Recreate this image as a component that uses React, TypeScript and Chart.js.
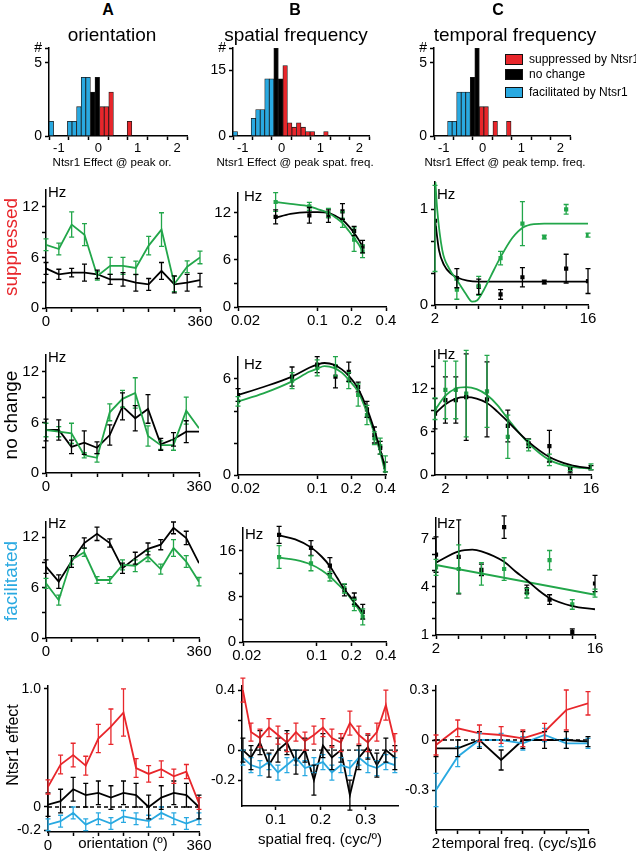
import React, { useEffect, useRef } from 'react';
import { Chart, registerables } from 'chart.js';

Chart.register(...registerables);

const FONT = '"Liberation Sans", Arial, Helvetica, sans-serif';
const GREEN = '#22a64a';
const RED = '#e8262b';
const BLUE = '#29a9e1';
const BLACK = '#000000';

/* ---------------- histogram data (bins 0.1 wide, -1 ... 2) ---------------- */
const histBins = ['-0.95','-0.85','-0.75','-0.65','-0.55','-0.45','-0.35','-0.25','-0.15','-0.05','0.05','0.15','0.25','0.35','0.45','0.55','0.65','0.75','0.85','0.95','1.05','1.15','1.25','1.35','1.45','1.55','1.65','1.75','1.85','1.95'];
const histOriSup = [0,0,0,0,0,0,0,0,0,0,0,2,2,3,0,0,0,1,0,0,0,0,0,0,0,0,0,0,0,0];
const histOriNc  = [0,0,0,0,0,0,0,0,0,3,4,0,0,0,0,0,0,0,0,0,0,0,0,0,0,0,0,0,0,0];
const histOriFac = [1,0,0,0,1,1,2,4,4,0,0,0,0,0,0,0,0,0,0,0,0,0,0,0,0,0,0,0,0,0];
const histSfSup  = [0,0,0,0,0,0,0,0,0,0,0,16,3,2,3,2,1,1,0,0,1,0,0,0,0,0,0,0,0,0];
const histSfNc   = [0,0,0,0,0,0,0,0,0,20,13,0,0,0,0,0,0,0,0,0,0,0,0,0,0,0,0,0,0,0];
const histSfFac  = [1,0,0,0,4,6,6,13,13,0,0,0,0,0,0,0,0,0,0,0,0,0,0,0,0,0,0,0,0,0];
const histTfSup  = [0,0,0,0,0,0,0,0,0,0,2,2,0,1,0,0,1,0,0,0,0,0,0,0,0,0,0,0,0,0];
const histTfNc   = [0,0,0,0,0,0,0,0,4,6,0,0,0,0,0,0,0,0,0,0,0,0,0,0,0,0,0,0,0,0];
const histTfFac  = [0,0,0,1,1,3,3,3,0,0,0,0,0,0,0,0,0,0,0,0,0,0,0,0,0,0,0,0,0,0];
const histTicks = [-1, -0.5, 0, 0.5, 1, 1.5, 2];

/* ---------------- orientation (A) ---------------- */
const ori = [0, 30, 60, 90, 120, 150, 180, 210, 240, 270, 300, 330, 360];
const supOriGreen = [7.5, 7.0, 9.9, 8.7, 3.8, 5.0, 5.0, 4.75, 7.4, 9.3, 2.85, 4.9, 6.0];
const supOriGreenErr = [0.7, 0.7, 1.5, 1.3, 0.5, 1.0, 1.0, 0.8, 1.1, 2.0, 0.9, 0.7, 0.75];
const supOriBlack = [4.7, 4.0, 4.2, 4.2, 4.0, 3.4, 3.4, 3.0, 2.8, 4.4, 2.8, 3.0, 3.3];
const supOriBlackErr = [0.7, 0.6, 0.5, 1.0, 0.5, 0.6, 0.8, 1.0, 0.7, 1.0, 1.0, 1.0, 0.8];
const ncOriGreen = [5.1, 4.9, 4.7, 2.1, 1.8, 7.2, 8.8, 9.5, 4.4, 3.3, 3.3, 7.4, 5.3];
const ncOriGreenErr = [0.8, 0.6, 1.2, 0.3, 0.5, 1.0, 1.0, 1.8, 1.2, 0.5, 0.6, 1.6, 0];
const ncOriBlack = [5.1, 5.1, 3.1, 3.6, 3.0, 4.5, 7.9, 6.5, 7.6, 3.4, 4.0, 4.9, 4.9];
const ncOriBlackErr = [1.3, 1.2, 0.8, 1.4, 0.7, 1.2, 1.6, 1.5, 1.7, 0.7, 0.8, 1.3, 0];
const faOriBlack = [8.5, 6.7, 9.1, 11.3, 12.4, 11.3, 8.3, 9.5, 10.6, 11.1, 13.1, 11.9, 8.9];
const faOriBlackErr = [0.8, 0.8, 0.7, 0.6, 0.8, 0.5, 0.6, 0.7, 0.7, 0.6, 0.7, 0.8, 0];
const faOriGreen = [6.5, 4.5, 9.3, 10.2, 6.9, 6.9, 8.7, 8.6, 9.7, 8.2, 10.7, 9.1, 6.7];
const faOriGreenErr = [0.6, 0.6, 0.5, 0.5, 0.4, 0.4, 0.6, 0.7, 0.6, 0.6, 1.0, 0.7, 0.5];
const effOriRed = [0.17, 0.36, 0.44, 0.35, 0.58, 0.68, 0.8, 0.33, 0.28, 0.32, 0.26, 0.3, 0.03];
const effOriRedErr = [0.06, 0.08, 0.1, 0.08, 0.12, 0.15, 0.2, 0.08, 0.07, 0.07, 0.06, 0.06, 0.05];
const effOriBlack = [0.02, 0.05, 0.15, 0.1, 0.12, 0.08, 0.12, 0.1, 0.0, 0.08, 0.12, 0.1, 0.0];
const effOriBlackErr = [0.1, 0.1, 0.1, 0.1, 0.1, 0.1, 0.1, 0.1, 0.1, 0.1, 0.1, 0.1, 0.1];
const effOriBlue = [-0.15, -0.12, -0.05, -0.15, -0.1, -0.14, -0.08, -0.1, -0.12, -0.05, -0.1, -0.14, -0.1];
const effOriBlueErr = [0.05, 0.05, 0.05, 0.05, 0.05, 0.05, 0.05, 0.05, 0.05, 0.05, 0.05, 0.05, 0.05];

/* ---------------- spatial frequency (B) ---------------- */
const sfSup = [0.043, 0.085, 0.125, 0.166, 0.21, 0.249];
const supSfGreen = [13.4, 12.85, 12.0, 11.15, 8.6, 7.1];
const supSfGreenErr = [1.2, 0.5, 0.6, 1.0, 1.5, 0.8];
const supSfBlack = [11.5, 11.7, 11.6, 12.2, 9.7, 7.7];
const supSfBlackErr = [0.9, 1.0, 0.8, 1.0, 0.6, 0.8];
const sfSupFit = [0.043, 0.058, 0.085, 0.1, 0.125, 0.145, 0.166, 0.189, 0.21, 0.23, 0.249];
const supSfGreenFit = [13.4, 13.15, 12.85, 12.5, 12.0, 11.4, 10.7, 9.7, 8.8, 8.0, 7.1];
const supSfBlackFit = [11.4, 11.9, 12.1, 12.1, 12.0, 11.6, 11.1, 10.3, 9.45, 8.6, 7.7];

const sfNc = [0.02, 0.06, 0.1, 0.145, 0.19, 0.23, 0.275, 0.32, 0.36, 0.4];
const ncSfBlack = [5.0, 6.15, 6.9, 6.15, 6.45, 5.5, 4.1, 2.5, 1.7, 0.5];
const ncSfBlackErr = [0.4, 0.6, 0.5, 0.7, 0.6, 0.3, 0.5, 0.5, 0.4, 0.3];
const ncSfGreen = [4.6, 5.9, 6.7, 6.8, 5.9, 5.0, 3.75, 2.3, 1.8, 0.7];
const ncSfGreenErr = [0.3, 0.5, 0.5, 0.6, 0.5, 0.7, 0.6, 0.4, 0.5, 0.5];
const sfNcFit = [0.02, 0.0335, 0.06, 0.085, 0.1, 0.116, 0.14, 0.165, 0.19, 0.23, 0.277, 0.33, 0.37, 0.4];
const ncSfBlackFit = [5.0, 5.5, 6.15, 6.7, 6.9, 7.0, 6.9, 6.6, 6.2, 5.4, 4.1, 2.5, 1.3, 0.4];
const ncSfGreenFit = [4.6, 5.1, 5.85, 6.45, 6.65, 6.8, 6.7, 6.4, 5.95, 5.2, 3.85, 2.3, 1.1, 0.1];

const sfFa = [0.047, 0.089, 0.13, 0.174, 0.212, 0.251];
const faSfBlack = [18.8, 16.5, 13.4, 9.1, 7.6, 5.3];
const faSfBlackErr = [1.5, 1.3, 1.4, 1.0, 1.0, 1.3];
const faSfGreen = [14.9, 13.8, 11.5, 9.4, 6.5, 4.4];
const faSfGreenErr = [2.0, 1.3, 0.8, 0.8, 1.0, 1.4];
const sfFaFit = [0.047, 0.065, 0.089, 0.11, 0.13, 0.15, 0.174, 0.193, 0.212, 0.232, 0.251];
const faSfBlackFit = [18.7, 18.0, 16.6, 15.0, 13.3, 11.3, 9.2, 8.1, 7.0, 6.1, 5.3];
const faSfGreenFit = [14.8, 14.4, 13.6, 12.6, 11.5, 10.3, 9.0, 7.9, 6.8, 5.7, 4.6];

const effSf = [0.027, 0.045, 0.065, 0.085, 0.105, 0.125, 0.145, 0.165, 0.185, 0.205, 0.225, 0.245, 0.265, 0.285, 0.305, 0.325, 0.345, 0.365];
const effSfRed = [0.4, 0.12, 0.08, 0.15, 0.1, 0.05, 0.12, 0.06, 0.1, 0.15, 0.08, 0.05, 0.18, 0.1, 0.05, 0.12, 0.3, 0.05];
const effSfRedErr = [0.08, 0.06, 0.06, 0.06, 0.06, 0.06, 0.06, 0.06, 0.06, 0.06, 0.06, 0.06, 0.08, 0.06, 0.06, 0.06, 0.1, 0.06];
const effSfBlack = [0.0, -0.05, 0.05, -0.1, 0.0, 0.05, -0.08, 0.0, -0.2, 0.03, -0.05, 0.0, -0.3, -0.05, 0.02, -0.1, 0.0, -0.05];
const effSfBlackErr = [0.08, 0.08, 0.08, 0.08, 0.08, 0.08, 0.08, 0.08, 0.1, 0.08, 0.08, 0.08, 0.1, 0.08, 0.08, 0.08, 0.08, 0.08];
const effSfBlue = [-0.05, -0.1, -0.12, -0.08, -0.15, -0.1, -0.05, -0.12, -0.1, -0.08, -0.15, -0.1, -0.12, -0.05, -0.1, -0.12, -0.08, -0.1];
const effSfBlueErr = [0.05, 0.05, 0.05, 0.05, 0.05, 0.05, 0.05, 0.05, 0.05, 0.05, 0.05, 0.05, 0.05, 0.05, 0.05, 0.05, 0.05, 0.05];

/* ---------------- temporal frequency (C) ---------------- */
const tf = [2, 4, 6, 8, 10, 12, 14, 16];
const supTfGreen = [0.8, 0.16, 0.2, 0.49, 0.85, 0.71, 1.0, 0.73];
const supTfGreenErr = [0.45, 0.1, 0.1, 0.07, 0.23, 0.02, 0.05, 0.02];
const supTfBlack = [0.88, 0.28, 0.19, 0.11, 0.29, 0.24, 0.38, 0.25];
const supTfBlackErr = [0, 0.1, 0.08, 0.05, 0.1, 0.02, 0.15, 0.13];
const tfSupGreenFitX = [2, 2.2, 2.67, 3.3, 4, 4.8, 5.4, 5.87, 6.48, 7.1, 8, 9.07, 10.05, 11.05, 12, 16];
const supTfGreenFit = [1.35, 1.0, 0.57, 0.38, 0.26, 0.12, 0.035, 0.05, 0.16, 0.3, 0.5, 0.7, 0.81, 0.845, 0.85, 0.85];
const tfSupBlackFitX = [2, 2.37, 2.82, 3.43, 4, 4.96, 6, 16];
const supTfBlackFit = [0.89, 0.57, 0.42, 0.33, 0.29, 0.255, 0.245, 0.245];

const tfNc = [1, 2, 3, 4, 6, 8, 10, 12, 14, 16];
const ncTfGreen = [9.2, 11.8, 11.8, 11.3, 11.6, 5.3, 4.15, 2.1, 0.9, 1.15];
const ncTfGreenErr = [1.5, 4.0, 4.0, 6.0, 5.0, 3.0, 0.8, 0.8, 0.3, 0.4];
const ncTfBlack = [8.5, 10.4, 10.4, 10.8, 10.5, 6.8, 4.4, 4.0, 0.7, 1.0];
const ncTfBlackErr = [2.1, 3.2, 3.2, 6.0, 5.2, 2.2, 0.6, 2.2, 0.4, 0.3];
const tfNcFit = [1, 2, 3, 4, 5, 6, 7, 8, 10, 12, 14, 16];
const ncTfBlackFit = [8.5, 9.8, 10.6, 10.8, 10.6, 10.0, 8.8, 7.4, 4.6, 2.5, 1.4, 0.9];
const ncTfGreenFit = [9.0, 11.0, 12.0, 12.2, 11.9, 11.1, 9.7, 7.8, 4.4, 2.1, 1.15, 0.9];

const faTfBlack = [6.0, 5.85, 5.05, 7.7, 3.85, 3.2, 1.2, 4.2];
const faTfBlackErr = [1.1, 2.3, 0.36, 0.7, 0.25, 0.3, 0.18, 0.5];
const faTfGreen = [5.2, 5.1, 4.8, 5.1, 3.6, 5.65, 2.9, 3.6];
const faTfGreenErr = [0.5, 1.5, 0.7, 0.7, 0.3, 0.6, 0.3, 0.25];
const tfFaBlackFitX = [2, 4, 5.2, 6, 8, 9, 10, 11, 12, 14, 16];
const faTfBlackFit = [5.5, 6.2, 6.3, 6.2, 5.55, 4.95, 4.4, 3.8, 3.3, 2.8, 2.6];
const tfFaGreenFitX = [2, 16];
const faTfGreenFit = [5.35, 3.5];

const effTfRed = [-0.03, 0.07, 0.04, 0.03, 0.01, 0.05, 0.18, 0.22];
const effTfRedErr = [0.06, 0.05, 0.05, 0.05, 0.05, 0.05, 0.12, 0.07];
const effTfBlack = [-0.05, -0.05, 0.0, -0.12, 0.0, 0.0, 0.0, -0.01];
const effTfBlackErr = [0.05, 0.05, 0.05, 0.06, 0.05, 0.05, 0.05, 0.03];
const effTfBlue = [-0.3, -0.1, 0.0, 0.0, -0.02, 0.03, -0.02, -0.02];
const effTfBlueErr = [0.1, 0.06, 0.04, 0.04, 0.04, 0.04, 0.03, 0.03];

/* ---------------- generic helpers ---------------- */
type Axis = { type?: 'linear' | 'logarithmic'; min: number; max: number; ticks: number[]; labels: [number, string][]; font: number };
type Curve = { xs: number[]; ys: number[]; err?: number[]; color: string; line?: boolean; points?: boolean; smooth?: boolean; dash?: number[]; width?: number };
type Box = [number, number, number, number]; // left, right, top, bottom of plot area

const YW = 44;
const XH = 24;
const PT = 14;
const PR = 26;

function axisOptions(a: Axis, horizontal: boolean, extra: any = {}) {
  return {
    type: a.type ?? 'linear',
    min: a.min,
    max: a.max,
    position: horizontal ? 'bottom' : 'left',
    afterBuildTicks: (s: any) => {
      s.ticks = a.ticks.map((v) => ({ value: v }));
    },
    afterFit: (s: any) => {
      if (horizontal) s.height = XH;
      else s.width = YW;
    },
    border: { display: true, color: BLACK, width: 1.5 },
    grid: { display: true, drawOnChartArea: false, drawTicks: true, tickLength: 4, tickWidth: 1.5, tickColor: BLACK, color: BLACK },
    ticks: {
      autoSkip: false,
      maxRotation: 0,
      minRotation: 0,
      padding: horizontal ? 1 : 3,
      color: BLACK,
      font: { family: FONT, size: a.font },
      callback: (v: any) => {
        const f = a.labels.find(([lv]) => Math.abs(lv - Number(v)) < 1e-6);
        return f ? f[1] : '';
      },
    },
    ...extra,
  };
}

const errorBarPlugin = {
  id: 'errorBars',
  afterDatasetsDraw(chart: any) {
    const { ctx, scales } = chart;
    const xs = scales.x;
    const ys = scales.y;
    chart.data.datasets.forEach((ds: any) => {
      if (!ds.errors) return;
      ctx.save();
      ctx.strokeStyle = ds.borderColor;
      ctx.lineWidth = 1.3;
      ds.data.forEach((p: any, i: number) => {
        const e = ds.errors[i];
        if (!e) return;
        const px = xs.getPixelForValue(p.x);
        const y1 = ys.getPixelForValue(p.y - e);
        const y2 = ys.getPixelForValue(p.y + e);
        ctx.beginPath();
        ctx.moveTo(px, y1);
        ctx.lineTo(px, y2);
        ctx.moveTo(px - 2.5, y1);
        ctx.lineTo(px + 2.5, y1);
        ctx.moveTo(px - 2.5, y2);
        ctx.lineTo(px + 2.5, y2);
        ctx.stroke();
      });
      ctx.restore();
    });
  },
};

function lineConfig(x: Axis, y: Axis, curves: Curve[]) {
  return {
    type: 'line',
    data: {
      datasets: curves.map((c) => ({
        data: c.xs.map((xv, i) => ({ x: xv, y: c.ys[i] })),
        borderColor: c.color,
        backgroundColor: c.color,
        borderWidth: c.width ?? 1.8,
        showLine: c.line !== false,
        pointRadius: c.points ? 1.7 : 0,
        pointStyle: 'rect',
        cubicInterpolationMode: c.smooth ? 'monotone' : 'default',
        tension: 0,
        borderDash: c.dash ?? [],
        errors: c.err,
      })),
    },
    options: {
      animation: false,
      responsive: false,
      events: [],
      layout: { padding: { left: 0, top: PT, right: PR, bottom: 0 } },
      plugins: { legend: { display: false }, tooltip: { enabled: false } },
      scales: { x: axisOptions(x, true), y: axisOptions(y, false) },
    },
    plugins: [errorBarPlugin],
  };
}

function histConfig(sup: number[], nc: number[], fac: number[], y: Axis, x: Axis) {
  const clean = (a: number[]) => a.map((v) => (v === 0 ? null : v));
  const ds = (data: number[], color: string) => ({
    data: clean(data),
    backgroundColor: color,
    borderColor: '#1a1a1a',
    borderWidth: 0.8,
    barPercentage: 1,
    categoryPercentage: 1,
  });
  return {
    type: 'bar',
    data: { labels: histBins, datasets: [ds(fac, BLUE), ds(nc, BLACK), ds(sup, RED)] },
    options: {
      animation: false,
      responsive: false,
      events: [],
      layout: { padding: { left: 0, top: PT, right: PR, bottom: 0 } },
      plugins: { legend: { display: false }, tooltip: { enabled: false } },
      scales: {
        x: { type: 'category', stacked: true, display: false, offset: true },
        x2: axisOptions(x, true),
        y: axisOptions(y, false, { stacked: true }),
      },
    },
  };
}

function ChartBox({ box, make }: { box: Box; make: () => any }) {
  const ref = useRef<HTMLCanvasElement>(null);
  const [L, R, T, B] = box;
  const left = L - YW;
  const top = T - PT;
  const width = Math.round(R + PR - left);
  const height = Math.round(B + XH - top);
  useEffect(() => {
    const chart = new Chart(ref.current as HTMLCanvasElement, make());
    return () => chart.destroy();
  }, []);
  return <canvas ref={ref} width={width} height={height} style={{ position: 'absolute', left, top, width, height }} />;
}

function Txt({ x, y, children, size = 15, color = BLACK, bold = false, rotate = false, align = 'center' }: any) {
  const tx = align === 'left' ? '0' : '-50%';
  return (
    <div
      style={{
        position: 'absolute',
        left: x,
        top: y,
        transform: `translate(${tx}, -50%)${rotate ? ' rotate(-90deg)' : ''}`,
        transformOrigin: align === 'left' ? 'left center' : 'center center',
        fontFamily: FONT,
        fontSize: size,
        fontWeight: bold ? 'bold' : 'normal',
        color,
        whiteSpace: 'nowrap',
        lineHeight: 1,
      }}
    >
      {children}
    </div>
  );
}

/* ---------------- axes ---------------- */
const histX: Axis = { min: -1, max: 2, ticks: histTicks, labels: [[-1, '-1'], [0, '0'], [1, '1'], [2, '2']], font: 13 };
const histY6: Axis = { min: 0, max: 6, ticks: [0, 5, 6], labels: [[0, '0'], [5, '5'], [6, '#']], font: 14 };
const histY20: Axis = { min: 0, max: 20, ticks: [0, 15, 20], labels: [[0, '0'], [15, '15'], [20, '#']], font: 14 };

const oriX: Axis = { min: 0, max: 360, ticks: [0, 60, 120, 180, 240, 300, 360], labels: [[0, '0'], [360, '360']], font: 15 };
const sfLabels: [number, string][] = [[0.02, '\u2002\u20020.02'], [0.1, '0.1'], [0.2, '0.2'], [0.4, '0.4']];
const sfX2: Axis = { type: 'logarithmic', min: 0.0201, max: 0.4, ticks: [0.0201, 0.1, 0.2, 0.4], labels: [[0.0201, '\u2002\u20020.02'], [0.1, '0.1'], [0.2, '0.2'], [0.4, '0.4']], font: 15 };
const sfX3: Axis = { type: 'logarithmic', min: 0.02, max: 0.405, ticks: [0.02, 0.1, 0.2, 0.4], labels: sfLabels, font: 15 };
const sfX4: Axis = { type: 'logarithmic', min: 0.0228, max: 0.4, ticks: [0.0228, 0.1, 0.2, 0.4], labels: [[0.0228, '\u20020.02'], [0.1, '0.1'], [0.2, '0.2'], [0.4, '0.4']], font: 15 };
const tfX: Axis = { min: 2, max: 16, ticks: [2, 4, 6, 8, 10, 12, 14, 16], labels: [[2, '2'], [16, '16']], font: 15 };
const tfX1: Axis = { min: 1, max: 16, ticks: [2, 4, 6, 8, 10, 12, 14, 16], labels: [[2, '2'], [16, '16']], font: 15 };
const effSfX: Axis = { min: 0.025, max: 0.372, ticks: [0.1, 0.2, 0.3], labels: [[0.1, '0.1'], [0.2, '0.2'], [0.3, '0.3']], font: 15 };

const hzY14: Axis = { min: 0, max: 14, ticks: [0, 3, 6, 9, 12], labels: [[0, '0'], [6, '6'], [12, '12']], font: 15 };
const hzY145: Axis = { min: 0, max: 14.55, ticks: [0, 3, 6, 9, 12], labels: [[0, '0'], [6, '6'], [12, '12']], font: 15 };
const supTfY: Axis = { min: 0, max: 1.285, ticks: [0, 1 / 3, 2 / 3, 1], labels: [[0, '0'], [1, '1']], font: 15 };
const ncSfY: Axis = { min: 0, max: 7.375, ticks: [0, 2, 4, 6], labels: [[0, '0'], [6, '6']], font: 15 };
const ncTfY: Axis = { min: 0, max: 17.2, ticks: [0, 3, 6, 9, 12, 15], labels: [[0, '0'], [6, '6'], [12, '12']], font: 15 };
const faOriY: Axis = { min: 0, max: 13.8, ticks: [0, 3, 6, 9, 12], labels: [[0, '0'], [6, '6'], [12, '12']], font: 15 };
const faSfY: Axis = { min: 0, max: 20, ticks: [0, 4, 8, 12, 16], labels: [[0, '0'], [8, '8'], [16, '16']], font: 15 };
const faTfY: Axis = { min: 1, max: 8.27, ticks: [1, 2, 3, 4, 5, 6, 7], labels: [[1, '1'], [4, '4'], [7, '7']], font: 15 };
const effOriY: Axis = { min: -0.212, max: 1.025, ticks: [-0.2, 0, 1.0], labels: [[-0.2, '-0.2'], [0, '0'], [1.0, '1.0']], font: 14 };
const effSfY: Axis = { min: -0.373, max: 0.427, ticks: [-0.2, 0, 0.2, 0.4], labels: [[-0.2, '-0.2'], [0, '0'], [0.4, '0.4']], font: 14 };
const effTfY: Axis = { min: -0.54, max: 0.324, ticks: [-0.3, 0, 0.3], labels: [[-0.3, '-0.3'], [0, '0'], [0.3, '0.3']], font: 14 };

const G = (xs: number[], ys: number[], err?: number[], extra: Partial<Curve> = {}): Curve => ({ xs, ys, err, color: GREEN, ...extra });
const K = (xs: number[], ys: number[], err?: number[], extra: Partial<Curve> = {}): Curve => ({ xs, ys, err, color: BLACK, ...extra });

export default function App() {
  return (
    <div style={{ position: 'absolute', left: 0, top: 0, width: 636, height: 853, overflow: 'hidden', background: '#fff' }}>
      {/* histograms */}
      <ChartBox box={[49, 187, 48, 136]} make={() => histConfig(histOriSup, histOriNc, histOriFac, histY6, histX)} />
      <ChartBox box={[233, 369, 48, 136]} make={() => histConfig(histSfSup, histSfNc, histSfFac, histY20, histX)} />
      <ChartBox box={[434, 570, 48, 136]} make={() => histConfig(histTfSup, histTfNc, histTfFac, histY6, histX)} />

      {/* suppressed */}
      <ChartBox box={[45.5, 199, 190, 308]} make={() => lineConfig(oriX, hzY14, [G(ori, supOriGreen, supOriGreenErr), K(ori, supOriBlack, supOriBlackErr)])} />
      <ChartBox box={[238, 385.5, 193, 307]} make={() => lineConfig(sfX2, hzY145, [
        G(sfSupFit, supSfGreenFit, undefined, { smooth: true }), K(sfSupFit, supSfBlackFit, undefined, { smooth: true }),
        G(sfSup, supSfGreen, supSfGreenErr, { line: false, points: true }), K(sfSup, supSfBlack, supSfBlackErr, { line: false, points: true })])} />
      <ChartBox box={[435, 588, 182, 305]} make={() => lineConfig(tfX, supTfY, [
        G(tfSupGreenFitX, supTfGreenFit, undefined, { smooth: true }), K(tfSupBlackFitX, supTfBlackFit, undefined, { smooth: true }),
        G(tf, supTfGreen, supTfGreenErr, { line: false, points: true }), K(tf, supTfBlack, supTfBlackErr, { line: false, points: true })])} />

      {/* no change */}
      <ChartBox box={[46, 199, 355, 473]} make={() => lineConfig(oriX, hzY14, [G(ori, ncOriGreen, ncOriGreenErr), K(ori, ncOriBlack, ncOriBlackErr)])} />
      <ChartBox box={[238, 386, 357, 475]} make={() => lineConfig(sfX3, ncSfY, [
        K(sfNcFit, ncSfBlackFit, undefined, { smooth: true }), G(sfNcFit, ncSfGreenFit, undefined, { smooth: true }),
        K(sfNc, ncSfBlack, ncSfBlackErr, { line: false, points: true }), G(sfNc, ncSfGreen, ncSfGreenErr, { line: false, points: true })])} />
      <ChartBox box={[435, 591, 351, 475]} make={() => lineConfig(tfX1, ncTfY, [
        K(tfNcFit, ncTfBlackFit, undefined, { smooth: true }), G(tfNcFit, ncTfGreenFit, undefined, { smooth: true }),
        K(tfNc, ncTfBlack, ncTfBlackErr, { line: false, points: true }), G(tfNc, ncTfGreen, ncTfGreenErr, { line: false, points: true })])} />

      {/* facilitated */}
      <ChartBox box={[46, 199, 522, 638]} make={() => lineConfig(oriX, faOriY, [G(ori, faOriGreen, faOriGreenErr), K(ori, faOriBlack, faOriBlackErr)])} />
      <ChartBox box={[242.7, 385.5, 528, 642]} make={() => lineConfig(sfX4, faSfY, [
        K(sfFaFit, faSfBlackFit, undefined, { smooth: true }), G(sfFaFit, faSfGreenFit, undefined, { smooth: true }),
        K(sfFa, faSfBlack, faSfBlackErr, { line: false, points: true }), G(sfFa, faSfGreen, faSfGreenErr, { line: false, points: true })])} />
      <ChartBox box={[436, 594.7, 518, 635]} make={() => lineConfig(tfX, faTfY, [
        K(tfFaBlackFitX, faTfBlackFit, undefined, { smooth: true }), G(tfFaGreenFitX, faTfGreenFit),
        K(tf, faTfBlack, faTfBlackErr, { line: false, points: true }), G(tf, faTfGreen, faTfGreenErr, { line: false, points: true })])} />

      {/* Ntsr1 effect */}
      <ChartBox box={[48, 199, 686, 832]} make={() => lineConfig(oriX, effOriY, [
        K([0, 360], [0, 0], undefined, { dash: [4, 3], width: 1.3 }),
        { xs: ori, ys: effOriBlue, err: effOriBlueErr, color: BLUE },
        K(ori, effOriBlack, effOriBlackErr),
        { xs: ori, ys: effOriRed, err: effOriRedErr, color: RED }])} />
      <ChartBox box={[242, 398, 686, 806]} make={() => lineConfig(effSfX, effSfY, [
        K([0.025, 0.372], [0, 0], undefined, { dash: [4, 3], width: 1.3 }),
        { xs: effSf, ys: effSfBlue, err: effSfBlueErr, color: BLUE },
        K(effSf, effSfBlack, effSfBlackErr),
        { xs: effSf, ys: effSfRed, err: effSfRedErr, color: RED }])} />
      <ChartBox box={[436, 588, 686, 830]} make={() => lineConfig(tfX, effTfY, [
        K([2, 16], [0, 0], undefined, { dash: [4, 3], width: 1.3 }),
        { xs: tf, ys: effTfBlue, err: effTfBlueErr, color: BLUE },
        K(tf, effTfBlack, effTfBlackErr),
        { xs: tf, ys: effTfRed, err: effTfRedErr, color: RED }])} />

      {/* column titles */}
      <Txt x={108} y={10} size={16} bold>A</Txt>
      <Txt x={112} y={34} size={19}>orientation</Txt>
      <Txt x={295} y={10} size={16} bold>B</Txt>
      <Txt x={296} y={34} size={19}>spatial frequency</Txt>
      <Txt x={498} y={10} size={16} bold>C</Txt>
      <Txt x={515} y={34} size={19}>temporal frequency</Txt>

      {/* legend */}
      <div style={{ position: 'absolute', left: 505, top: 54, width: 16, height: 9, background: RED, border: '1px solid #111' }} />
      <div style={{ position: 'absolute', left: 505, top: 69, width: 16, height: 9, background: BLACK, border: '1px solid #111' }} />
      <div style={{ position: 'absolute', left: 505, top: 87, width: 16, height: 9, background: BLUE, border: '1px solid #111' }} />
      <Txt x={529} y={59} size={12} align="left">suppressed by Ntsr1</Txt>
      <Txt x={529} y={74} size={12} align="left">no change</Txt>
      <Txt x={529} y={92} size={12} align="left">facilitated by Ntsr1</Txt>

      {/* histogram axis titles */}
      <Txt x={112} y={163} size={11.5}>Ntsr1 Effect @ peak or.</Txt>
      <Txt x={295} y={163} size={11.5}>Ntsr1 Effect @ peak spat. freq.</Txt>
      <Txt x={505} y={163} size={11.5}>Ntsr1 Effect @ peak temp. freq.</Txt>

      {/* Hz labels */}
      <Txt x={48} y={191} size={15} align="left">Hz</Txt>
      <Txt x={244} y={195} size={15} align="left">Hz</Txt>
      <Txt x={437} y={193} size={15} align="left">Hz</Txt>
      <Txt x={48} y={356} size={15} align="left">Hz</Txt>
      <Txt x={244} y={363} size={15} align="left">Hz</Txt>
      <Txt x={437} y={353} size={15} align="left">Hz</Txt>
      <Txt x={48} y={522} size={15} align="left">Hz</Txt>
      <Txt x={245} y={533} size={15} align="left">Hz</Txt>
      <Txt x={437} y={522} size={15} align="left">Hz</Txt>

      {/* row labels */}
      <Txt x={10} y={247} size={19} color={RED} rotate>suppressed</Txt>
      <Txt x={10} y={415} size={19} rotate>no change</Txt>
      <Txt x={10} y={581} size={19} color={BLUE} rotate>facilitated</Txt>
      <Txt x={13} y={745} size={16} rotate>Ntsr1 effect</Txt>

      {/* bottom axis titles */}
      <Txt x={123} y={842} size={15}>orientation (º)</Txt>
      <Txt x={320} y={838} size={15}>spatial freq. (cyc/º)</Txt>
      <Txt x={512} y={842} size={15}>temporal freq. (cyc/s)</Txt>
    </div>
  );
}
